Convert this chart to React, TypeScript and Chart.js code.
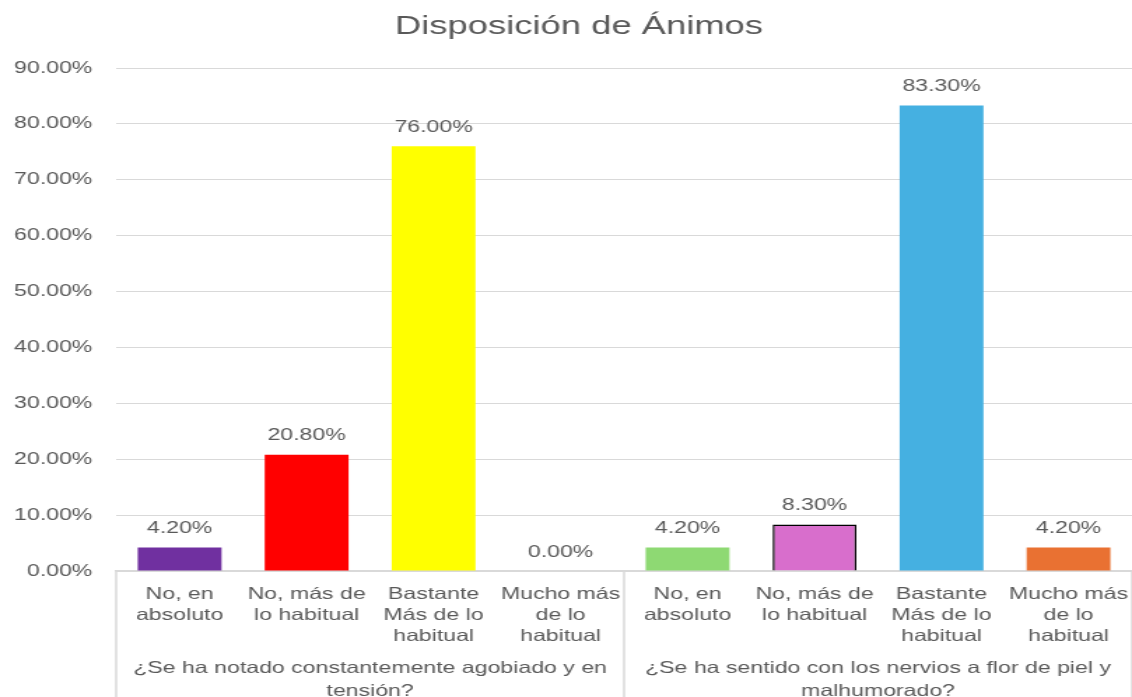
import React, { useEffect, useRef } from 'react';
import { Chart, registerables } from 'chart.js';

Chart.register(...registerables);

// ---------- data ----------
const TITLE = 'Disposición de Ánimos';
const categories: string[][] = [
  ['No, en', 'absoluto'],
  ['No, más de', 'lo habitual'],
  ['Bastante', 'Más de lo', 'habitual'],
  ['Mucho más', 'de lo', 'habitual'],
  ['No, en', 'absoluto'],
  ['No, más de', 'lo habitual'],
  ['Bastante', 'Más de lo', 'habitual'],
  ['Mucho más', 'de lo', 'habitual'],
];
const groupLabels: string[][] = [
  ['¿Se ha notado constantemente agobiado y en', 'tensión?'],
  ['¿Se ha sentido con los nervios a flor de piel y', 'malhumorado?'],
];
const groupSizes = [4, 4];
const values = [4.2, 20.8, 76.0, 0.0, 4.2, 8.3, 83.3, 4.2];
const barColors = ['#7030A0', '#FF0000', '#FFFF00', '#A5A5A5', '#8ED973', '#D86ECC', '#45B0E1', '#E97132'];
const barBorderColors = ['#7030A0', '#FF0000', '#FFFF00', '#A5A5A5', '#8ED973', '#000000', '#45B0E1', '#E97132'];
const barBorderWidths = [0, 0, 0, 0, 0, 1.5, 0, 0];
const Y_MIN = 0;
const Y_MAX = 90;
const Y_STEP = 10;

// ---------- styling ----------
const VIEW_W = 1132;
const VIEW_H = 697;
const STRETCH = 1.4; // reference text/glyphs are horizontally stretched
const CANVAS_W = Math.round(VIEW_W / STRETCH);
const FONT = 'Liberation Sans';
const TEXT = '#595959';
const GRID = '#D9D9D9';
const FS = 16.5;

const annotations = {
  id: 'annotations',
  afterDatasetsDraw(chart: any) {
    const ctx = chart.ctx;
    const meta = chart.getDatasetMeta(0);
    ctx.save();
    ctx.font = `${FS}px "${FONT}"`;
    ctx.fillStyle = TEXT;
    ctx.textAlign = 'center';
    ctx.textBaseline = 'middle';
    meta.data.forEach((bar: any, i: number) => {
      ctx.fillText(values[i].toFixed(2) + '%', bar.x, bar.y - 19);
    });
    ctx.restore();
  },
  afterDraw(chart: any) {
    const ctx = chart.ctx;
    const area = chart.chartArea;
    const xs = chart.scales.x;
    ctx.save();
    // title
    ctx.font = `26px "${FONT}"`;
    ctx.fillStyle = TEXT;
    ctx.textAlign = 'center';
    ctx.textBaseline = 'middle';
    ctx.fillText(TITLE, chart.width * 0.5115, 27);

    // group separators + labels
    ctx.strokeStyle = GRID;
    ctx.lineWidth = 1.5;
    let start = 0;
    const bounds: number[] = [area.left];
    groupSizes.forEach((n) => {
      const end = start + n;
      const right = end >= values.length
        ? area.right
        : (xs.getPixelForValue(end - 1) + xs.getPixelForValue(end)) / 2;
      bounds.push(right);
      start = end;
    });
    bounds.forEach((bx) => {
      ctx.beginPath();
      ctx.moveTo(bx, area.bottom);
      ctx.lineTo(bx, chart.height);
      ctx.stroke();
    });
    ctx.font = `${FS}px "${FONT}"`;
    ctx.fillStyle = TEXT;
    groupLabels.forEach((lines, g) => {
      const cx = (bounds[g] + bounds[g + 1]) / 2;
      lines.forEach((ln, k) => {
        ctx.fillText(ln, cx, area.bottom + 97 + k * 23);
      });
    });
    ctx.restore();
  },
};

export default function App() {
  const ref = useRef<HTMLCanvasElement | null>(null);
  useEffect(() => {
    document.body.style.margin = '0';
    const canvas = ref.current!;
    const chart = new Chart(canvas, {
      type: 'bar',
      data: {
        labels: categories,
        datasets: [
          {
            data: values,
            backgroundColor: barColors,
            borderColor: barBorderColors,
            borderWidth: barBorderWidths,
            barPercentage: 0.66,
            categoryPercentage: 1,
          },
        ],
      },
      options: {
        responsive: false,
        animation: false,
        devicePixelRatio: 1,
        layout: { padding: { top: 68, left: 0, right: 0, bottom: 0 } },
        plugins: {
          legend: { display: false },
          tooltip: { enabled: false },
          title: { display: false },
        },
        scales: {
          x: {
            grid: { display: false, drawTicks: false },
            border: { display: true, color: GRID, width: 1.5 },
            ticks: {
              autoSkip: false,
              maxRotation: 0,
              minRotation: 0,
              padding: 13,
              color: TEXT,
              font: { family: FONT, size: FS, lineHeight: 1.27 },
            },
            afterFit: (s: any) => {
              s.height = VIEW_H - 571;
              s.paddingLeft = 0;
              s.paddingRight = 0;
            },
          },
          y: {
            min: Y_MIN,
            max: Y_MAX,
            grid: { color: GRID, lineWidth: 1, drawTicks: false },
            border: { display: false },
            ticks: {
              stepSize: Y_STEP,
              padding: 17,
              color: TEXT,
              font: { family: FONT, size: FS },
              callback: (v: any) => Number(v).toFixed(2) + '%',
            },
            afterFit: (s: any) => {
              s.width = Math.round(116 / STRETCH);
            },
          },
        },
      },
      plugins: [annotations],
    });
    return () => chart.destroy();
  }, []);

  return (
    <div style={{ position: 'absolute', left: 0, top: 0, width: VIEW_W, height: VIEW_H, background: '#fff' }}>
      <canvas
        ref={ref}
        width={CANVAS_W}
        height={VIEW_H}
        style={{ width: VIEW_W + 'px', height: VIEW_H + 'px', display: 'block' }}
      />
    </div>
  );
}
